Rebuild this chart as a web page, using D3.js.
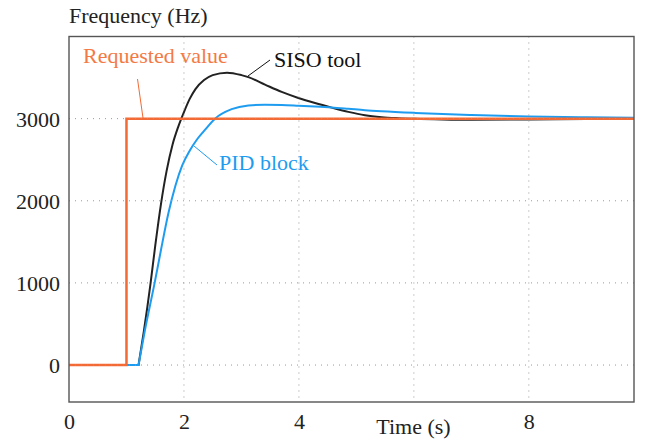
<!DOCTYPE html>
<html>
<head>
<meta charset="utf-8">
<script src="https://cdn.jsdelivr.net/npm/d3@7"></script>
<style>
  body { margin: 0; background: #fff; }
  svg text { font-family: "Liberation Serif", "Times New Roman", serif; }
</style>
</head>
<body>
<script>
// ---- data -------------------------------------------------------
var reqTime  = [0, 1, 1, 9.83];
var reqValue = [0, 0, 3000, 3000];

var sisoTime  = [0, 1.21, 1.3, 1.42, 1.5, 1.6, 1.7, 1.8, 1.9, 2.0, 2.1, 2.2, 2.35, 2.5, 2.75, 3.0, 3.12, 3.41, 3.7, 3.99, 4.28, 4.57, 4.86, 5.15, 5.44, 5.73, 6.02, 6.5, 7.0, 8.0, 9.0, 9.83];
var sisoValue = [0, 0, 400, 1000, 1450, 1960, 2370, 2680, 2900, 3080, 3240, 3360, 3470, 3530, 3560, 3530, 3505, 3414, 3325, 3252, 3190, 3134, 3082, 3041, 3018, 3006, 2998, 2990, 2986, 2990, 2997, 3000];

var pidTime  = [0, 1.21, 1.32, 1.49, 1.6, 1.73, 1.85, 1.97, 2.1, 2.22, 2.35, 2.54, 2.83, 3.12, 3.41, 3.7, 3.99, 4.28, 4.57, 4.86, 5.15, 5.44, 6.02, 7.0, 8.0, 9.0, 9.83];
var pidValue = [0, 0, 420, 1000, 1400, 1850, 2180, 2430, 2610, 2740, 2850, 3000, 3115, 3160, 3170, 3167, 3158, 3148, 3136, 3120, 3103, 3090, 3070, 3045, 3025, 3016, 3012];

var xTicks = [0, 2, 4, 8];
var yTicks = [0, 1000, 2000, 3000];
var gridX  = [2, 4, 6, 8];

var orange = "#f26a35",
    blue   = "#1e9cf0",
    black  = "#222";

// ==================================================================
var width = 645, height = 439;
var margin = {top: 36.5, right: 11, bottom: 37, left: 69};
var w = width - margin.left - margin.right,
    h = height - margin.top - margin.bottom;

var svg = d3.select("body").append("svg")
    .attr("width", width)
    .attr("height", height);

var g = svg.append("g")
    .attr("transform", "translate(" + margin.left + "," + margin.top + ")");

var x = d3.scaleLinear().domain([0, 9.83]).range([0, w]);
var y = d3.scaleLinear().domain([-450, 4000]).range([h, 0]);

g.append("clipPath").attr("id", "clip")
  .append("rect").attr("width", w).attr("height", h);

var pts = (ts, vs) => ts.map((t, i) => [t, vs[i]]);

var smooth = d3.line()
    .curve(d3.curveMonotoneX)
    .x(d => x(d[0]))
    .y(d => y(d[1]));

var straight = d3.line()
    .x(d => x(d[0]))
    .y(d => y(d[1]));

// flat part straight (sharp corner where the response starts), rest smooth
var response = (ts, vs) => {
  var p = pts(ts, vs);
  return straight(p.slice(0, 2)) + smooth(p.slice(1)).replace(/^M/, "L");
};

var plot = g.append("g").attr("clip-path", "url(#clip)");

plot.append("path")
    .attr("d", response(sisoTime, sisoValue))
    .attr("fill", "none")
    .attr("stroke", black)
    .attr("stroke-width", 2);

plot.append("path")
    .attr("d", response(pidTime, pidValue))
    .attr("fill", "none")
    .attr("stroke", blue)
    .attr("stroke-width", 2);

plot.append("path")
    .attr("d", straight(pts(reqTime, reqValue)))
    .attr("fill", "none")
    .attr("stroke", orange)
    .attr("stroke-width", 2.5);

// dotted grid, drawn over the lines
g.selectAll(".gx").data(gridX).enter().append("line")
    .attr("x1", d => x(d)).attr("x2", d => x(d))
    .attr("y1", 0).attr("y2", h)
    .attr("stroke", "#999")
    .attr("stroke-width", 1)
    .attr("stroke-dasharray", "1,5");

g.selectAll(".gy").data(yTicks).enter().append("line")
    .attr("x1", 0).attr("x2", w)
    .attr("y1", d => y(d)).attr("y2", d => y(d))
    .attr("stroke", "#999")
    .attr("stroke-width", 1)
    .attr("stroke-dasharray", "1,5");

// frame
g.append("rect")
    .attr("width", w).attr("height", h)
    .attr("fill", "none")
    .attr("stroke", "#555")
    .attr("stroke-width", 1.4);

// axes
var yAxis = g.append("g")
    .call(d3.axisLeft(y).tickValues(yTicks).tickSize(0).tickPadding(9).tickFormat(d3.format("d")));
yAxis.select(".domain").remove();
yAxis.selectAll("text")
    .attr("font-size", "22px")
    .attr("font-family", "Liberation Serif, Times New Roman, serif")
    .attr("fill", "#222")
    .attr("dy", "0.35em");

var xAxis = g.append("g")
    .attr("transform", "translate(0," + h + ")")
    .call(d3.axisBottom(x).tickValues(xTicks).tickSize(0).tickPadding(11).tickFormat(d3.format("d")));
xAxis.select(".domain").remove();
xAxis.selectAll("text")
    .attr("font-size", "22px")
    .attr("font-family", "Liberation Serif, Times New Roman, serif")
    .attr("fill", "#222");

svg.append("text")
    .attr("x", 413.5).attr("y", 434)
    .attr("text-anchor", "middle")
    .attr("font-size", "22px")
    .attr("fill", "#222")
    .text("Time (s)");

svg.append("text")
    .attr("x", 69).attr("y", 23)
    .attr("font-size", "22px")
    .attr("fill", "#222")
    .text("Frequency (Hz)");

// series labels + leader lines
svg.append("text")
    .attr("x", 83).attr("y", 62.5)
    .attr("font-size", "22px")
    .attr("fill", "#f47a45")
    .text("Requested value");
svg.append("line")
    .attr("x1", 137.5).attr("y1", 79).attr("x2", 143).attr("y2", 118)
    .attr("stroke", orange).attr("stroke-width", 1);

svg.append("text")
    .attr("x", 274).attr("y", 66.5)
    .attr("font-size", "22px")
    .attr("fill", "#111")
    .text("SISO tool");
svg.append("line")
    .attr("x1", 270).attr("y1", 60).attr("x2", 248).attr("y2", 76)
    .attr("stroke", "#111").attr("stroke-width", 1);

svg.append("text")
    .attr("x", 219).attr("y", 170)
    .attr("font-size", "22px")
    .attr("fill", blue)
    .text("PID block");
svg.append("line")
    .attr("x1", 194).attr("y1", 146).attr("x2", 217).attr("y2", 165)
    .attr("stroke", blue).attr("stroke-width", 1);
</script>
</body>
</html>
